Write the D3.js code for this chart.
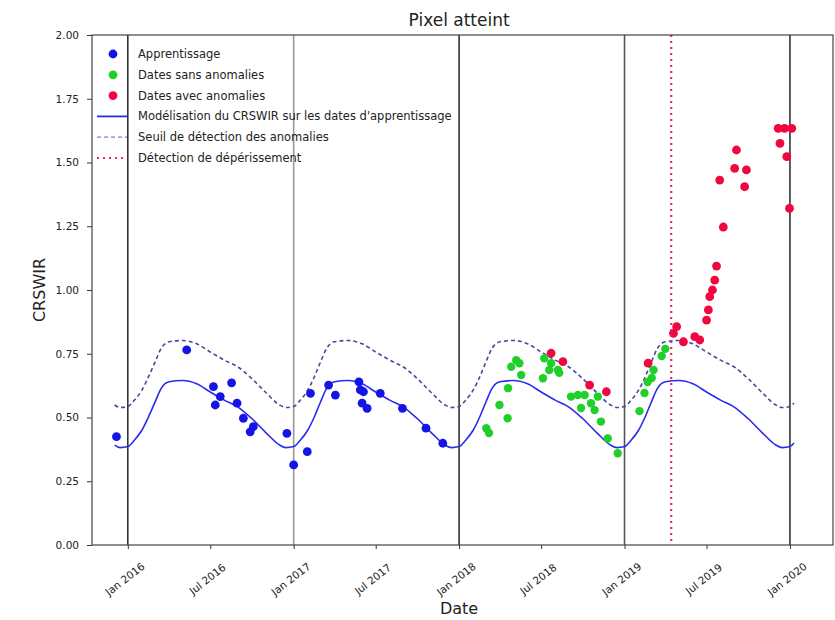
<!DOCTYPE html>
<html>
<head>
<meta charset="utf-8">
<script src="https://cdn.jsdelivr.net/npm/d3@7"></script>
<style>
  body { margin: 0; background: #fff; }
  text { font-family: "DejaVu Sans", sans-serif; fill: #222; }
</style>
</head>
<body>
<script>
// dates d'apprentissage (bleu)
const apprDates = ['2015-12-07','2016-05-10','2016-07-08','2016-07-12','2016-07-23','2016-08-17','2016-08-29',
  '2016-09-12','2016-09-27','2016-10-04','2016-12-17','2017-01-01','2017-01-31','2017-02-07','2017-03-19',
  '2017-04-03','2017-05-25','2017-05-28','2017-06-04','2017-06-01','2017-06-12','2017-07-11','2017-08-29',
  '2017-10-20','2017-11-26'];
const apprValues = [0.425,0.765,0.621,0.549,0.582,0.636,0.556,0.497,0.444,0.464,0.438,0.314,0.366,0.595,0.627,
  0.588,0.640,0.608,0.601,0.556,0.536,0.595,0.536,0.458,0.399];

// dates sans anomalies (vert)
const okDates = ['2018-03-02','2018-03-08','2018-03-31','2018-04-18','2018-04-19','2018-04-26','2018-05-07',
  '2018-05-14','2018-05-18','2018-07-05','2018-07-08','2018-07-19','2018-07-23','2018-08-07','2018-08-10',
  '2018-09-05','2018-09-20','2018-09-27','2018-10-05','2018-10-19','2018-10-27','2018-11-03','2018-11-10',
  '2018-11-25','2018-12-17','2019-02-03','2019-02-14','2019-02-21','2019-03-02','2019-03-06','2019-03-24','2019-04-01'];
const okValues = [0.458,0.439,0.549,0.497,0.615,0.699,0.725,0.713,0.667,0.654,0.732,0.686,0.713,0.686,0.675,
  0.582,0.588,0.537,0.588,0.556,0.529,0.582,0.484,0.418,0.360,0.525,0.596,0.639,0.655,0.686,0.741,0.769];

// dates avec anomalies (rouge)
const anoDates = ['2018-07-23','2018-08-18','2018-10-16','2018-11-22','2019-02-22','2019-04-19','2019-04-26',
  '2019-05-11','2019-06-05','2019-06-16','2019-07-01','2019-07-05','2019-07-08','2019-07-14','2019-07-19',
  '2019-07-23','2019-08-07','2019-07-30','2019-09-01','2019-09-27','2019-09-05','2019-09-23','2019-12-06',
  '2019-12-20','2020-01-05','2019-12-10','2019-12-25','2019-12-31'];
const anoValues = [0.752,0.719,0.627,0.601,0.713,0.830,0.856,0.797,0.817,0.804,0.882,0.922,0.974,1.000,1.039,
  1.094,1.247,1.431,1.477,1.471,1.549,1.405,1.634,1.634,1.634,1.575,1.523,1.320];

// modelisation du CRSWIR et seuil
const modelDates = ['2015-12-03','2015-12-15',
  '2016-01-01','2016-01-15','2016-02-01','2016-02-15','2016-03-01','2016-03-15','2016-04-01','2016-05-01',
  '2016-06-01','2016-07-01','2016-08-01','2016-09-01','2016-10-01','2016-11-01','2016-12-01','2016-12-15',
  '2017-01-01','2017-01-15','2017-02-01','2017-02-15','2017-03-01','2017-03-15','2017-04-01','2017-05-01',
  '2017-06-01','2017-07-01','2017-08-01','2017-09-01','2017-10-01','2017-11-01','2017-12-01','2017-12-15',
  '2018-01-01','2018-01-15','2018-02-01','2018-02-15','2018-03-01','2018-03-15','2018-04-01','2018-05-01',
  '2018-06-01','2018-07-01','2018-08-01','2018-09-01','2018-10-01','2018-11-01','2018-12-01','2018-12-15',
  '2019-01-01','2019-01-15','2019-02-01','2019-02-15','2019-03-01','2019-03-15','2019-04-01','2019-05-01',
  '2019-06-01','2019-07-01','2019-08-01','2019-09-01','2019-10-01','2019-11-01','2019-12-01','2019-12-15',
  '2020-01-01','2020-01-10'];
const modelValues = [0.392,0.382,
  0.386,0.41,0.45,0.50,0.56,0.615,0.64,0.645,0.632,0.60,0.568,0.54,0.495,0.44,0.392,0.382,
  0.386,0.41,0.45,0.50,0.56,0.615,0.64,0.645,0.632,0.60,0.568,0.54,0.495,0.44,0.392,0.382,
  0.386,0.41,0.45,0.50,0.56,0.615,0.64,0.645,0.632,0.60,0.568,0.54,0.495,0.44,0.392,0.382,
  0.386,0.41,0.45,0.50,0.56,0.615,0.64,0.645,0.632,0.60,0.568,0.54,0.495,0.44,0.392,0.382,
  0.386,0.40];
const seuilValues = [0.549,0.539,
  0.543,0.567,0.607,0.657,0.717,0.772,0.797,0.802,0.789,0.757,0.725,0.697,0.652,0.597,0.549,0.539,
  0.543,0.567,0.607,0.657,0.717,0.772,0.797,0.802,0.789,0.757,0.725,0.697,0.652,0.597,0.549,0.539,
  0.543,0.567,0.607,0.657,0.717,0.772,0.797,0.802,0.789,0.757,0.725,0.697,0.652,0.597,0.549,0.539,
  0.543,0.567,0.607,0.657,0.717,0.772,0.797,0.802,0.789,0.757,0.725,0.697,0.652,0.597,0.549,0.539,
  0.543,0.557];

const detectionDate = '2019-04-14';
const yearLines = ['2016-01-01','2017-01-01','2018-01-01','2019-01-01','2020-01-01'];
const yearLineColors = ['#333','#999','#333','#555','#333'];

const xTicks = ['2016-01-01','2016-07-01','2017-01-01','2017-07-01','2018-01-01','2018-07-01','2019-01-01','2019-07-01','2020-01-01'];
const xTickLabels = ['Jan 2016','Jul 2016','Jan 2017','Jul 2017','Jan 2018','Jul 2018','Jan 2019','Jul 2019','Jan 2020'];
const yTicks = [0, 0.25, 0.5, 0.75, 1.0, 1.25, 1.5, 1.75, 2.0];

const legendLabels = ['Apprentissage','Dates sans anomalies','Dates avec anomalies',
  "Modélisation du CRSWIR sur les dates d'apprentissage",'Seuil de détection des anomalies','Détection de dépérissement'];

const outerWidth = 835;
const outerHeight = 620;
const margin = {top: 35, left: 92, bottom: 75, right: 2};
const width = outerWidth - margin.left - margin.right;
const height = outerHeight - margin.top - margin.bottom;

const parse = d3.timeParse('%Y-%m-%d');

const svg = d3.select('body')
  .append('svg')
  .attr('width', outerWidth)
  .attr('height', outerHeight);

const g = svg.append('g')
  .attr('transform', `translate(${margin.left}, ${margin.top})`);

const x = d3.scaleTime()
  .domain([parse('2015-10-14'), parse('2020-04-05')])
  .range([0, width]);
const y = d3.scaleLinear()
  .domain([0, 2])
  .range([height, 0]);

// lignes verticales des annees
g.selectAll('.year')
  .data(yearLines)
  .join('line')
  .attr('x1', d => x(parse(d)))
  .attr('x2', d => x(parse(d)))
  .attr('y1', 0)
  .attr('y2', height)
  .attr('stroke', (d, i) => yearLineColors[i])
  .attr('stroke-width', 1.6);

// courbes
const model = modelDates.map((d, i) => ({date: parse(d), v: modelValues[i], s: seuilValues[i]}));
const lineModel = d3.line().x(d => x(d.date)).y(d => y(d.v)).curve(d3.curveMonotoneX);
const lineSeuil = d3.line().x(d => x(d.date)).y(d => y(d.s)).curve(d3.curveMonotoneX);

g.append('path')
  .datum(model)
  .attr('d', lineSeuil)
  .attr('fill', 'none')
  .attr('stroke', '#4a4a9a')
  .attr('stroke-width', 1.6)
  .attr('stroke-dasharray', '4,3');

g.append('path')
  .datum(model)
  .attr('d', lineModel)
  .attr('fill', 'none')
  .attr('stroke', '#2a2af0')
  .attr('stroke-width', 1.6);

// points
function drawPoints(dates, values, color, r) {
  g.append('g')
    .selectAll('circle')
    .data(dates.map((d, i) => ({date: parse(d), v: values[i]})))
    .join('circle')
    .attr('cx', d => x(d.date))
    .attr('cy', d => y(d.v))
    .attr('r', r)
    .attr('fill', color);
}
drawPoints(apprDates, apprValues, '#1414e6', 4.4);
drawPoints(okDates, okValues, '#1fd02a', 4.2);
drawPoints(anoDates, anoValues, '#f0073f', 4.4);

// detection de deperissement
g.append('line')
  .attr('x1', x(parse(detectionDate)))
  .attr('x2', x(parse(detectionDate)))
  .attr('y1', 0)
  .attr('y2', height)
  .attr('stroke', '#f2245c')
  .attr('stroke-width', 2.2)
  .attr('stroke-dasharray', '2,4');

// axes
const xAxis = d3.axisBottom(x)
  .tickValues(xTicks.map(parse))
  .tickFormat((d, i) => xTickLabels[i])
  .tickSize(4);
const gx = g.append('g')
  .attr('transform', `translate(0, ${height})`)
  .call(xAxis);
gx.select('.domain').remove();
gx.selectAll('.tick line').attr('stroke', '#333');
gx.selectAll('.tick text')
  .attr('font-size', 10.5)
  .attr('text-anchor', 'middle')
  .attr('dy', null)
  .attr('y', null)
  .attr('transform', 'translate(-1, 37) rotate(-38)');

const yAxis = d3.axisLeft(y)
  .tickValues(yTicks)
  .tickFormat(d3.format('.2f'))
  .tickSize(5)
  .tickPadding(8);
const gy = g.append('g').call(yAxis);
gy.select('.domain').remove();
gy.selectAll('.tick line').attr('stroke', '#333');
gy.selectAll('.tick text').attr('font-size', 10.5);

// cadre
g.append('rect')
  .attr('width', width)
  .attr('height', height)
  .attr('fill', 'none')
  .attr('stroke', '#444')
  .attr('stroke-width', 1.2);

// titres
svg.append('text')
  .attr('x', margin.left + x(parse('2018-01-01')))
  .attr('y', 26)
  .attr('text-anchor', 'middle')
  .attr('font-size', 17)
  .text('Pixel atteint');

svg.append('text')
  .attr('x', margin.left + x(parse('2018-01-01')))
  .attr('y', 614)
  .attr('text-anchor', 'middle')
  .attr('font-size', 16)
  .text('Date');

svg.append('text')
  .attr('transform', `translate(45, ${margin.top + y(1)}) rotate(-90)`)
  .attr('text-anchor', 'middle')
  .attr('font-size', 16)
  .text('CRSWIR');

// legende
const legend = svg.append('g').attr('transform', 'translate(97, 54)');
const rowH = 20.8;
legendLabels.forEach((label, i) => {
  const row = legend.append('g').attr('transform', `translate(0, ${i * rowH})`);
  if (i < 3) {
    row.append('circle')
      .attr('cx', 16)
      .attr('cy', 0)
      .attr('r', 4.4)
      .attr('fill', ['#1414e6', '#1fd02a', '#f0073f'][i]);
  } else {
    row.append('line')
      .attr('x1', 0).attr('x2', 30)
      .attr('y1', 0).attr('y2', 0)
      .attr('stroke', ['#2a2af0', '#9aa6d8', '#f2245c'][i - 3])
      .attr('stroke-width', i === 5 ? 2.2 : 1.8)
      .attr('stroke-dasharray', i === 3 ? null : (i === 4 ? '4,3' : '2,4'));
  }
  row.append('text')
    .attr('x', 41)
    .attr('y', 0)
    .attr('dy', '0.35em')
    .attr('font-size', 11.5)
    .text(label);
});
</script>
</body>
</html>
